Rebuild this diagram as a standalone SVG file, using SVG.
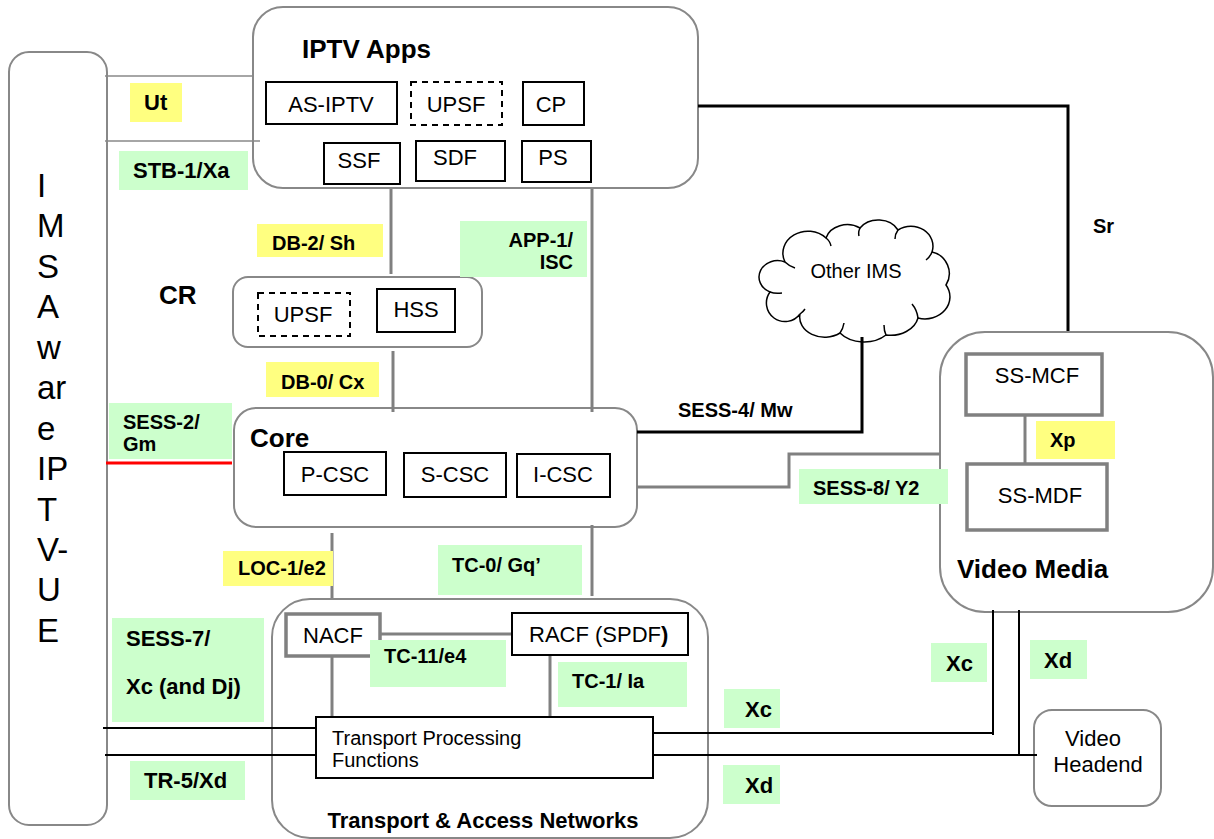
<svg xmlns="http://www.w3.org/2000/svg" width="1214" height="839" viewBox="0 0 1214 839">
<style>
text{font-family:"Liberation Sans",Arial,sans-serif;fill:#000}
.b{font-weight:bold;font-size:20px}
.b22{font-weight:bold;font-size:22px}
.t{font-weight:bold;font-size:26px}
.r{font-size:22px}
.r20{font-size:20px}
.ue{font-size:33px}
.mid{text-anchor:middle}
.cont{fill:#fff;stroke:#888;stroke-width:2}
.box{fill:#fff;stroke:#000;stroke-width:2}
.dash{fill:#fff;stroke:#000;stroke-width:2;stroke-dasharray:6 5}
.gbox{fill:#fff;stroke:#808080;stroke-width:3.5}
.gl{fill:none;stroke:#808080;stroke-width:3}
.thin{fill:none;stroke:#888;stroke-width:1.5}
.bl{fill:none;stroke:#000;stroke-width:3}
.bt{fill:none;stroke:#000;stroke-width:2}
.y{fill:#ffff80}
.g{fill:#ccffcc}
</style>

<g id="containers">
<g id="ue"><rect class="cont" x="9" y="52" width="98" height="773" rx="20"/>
<text class="ue" x="37"><tspan x="37" y="197">I</tspan><tspan x="37" y="237">M</tspan><tspan x="37" y="278">S</tspan><tspan x="37" y="318">A</tspan><tspan x="37" y="359">w</tspan><tspan x="37" y="399">ar</tspan><tspan x="37" y="440">e</tspan><tspan x="37" y="480">IP</tspan><tspan x="37" y="521">T</tspan><tspan x="37" y="561">V-</tspan><tspan x="37" y="601">U</tspan><tspan x="37" y="642">E</tspan></text></g>
<g id="iptv-apps"><rect class="cont" x="253" y="7" width="445" height="181" rx="30"/><text class="t" x="302" y="58">IPTV Apps</text></g>
<g id="cr"><rect class="cont" x="233" y="277" width="249" height="70" rx="15"/><text class="t" x="159" y="304">CR</text></g>
<g id="core"><rect class="cont" x="234" y="408" width="403" height="119" rx="22"/><text class="t" x="250" y="447">Core</text></g>
<g id="transport"><rect class="cont" x="272" y="599" width="436" height="239" rx="38"/><text class="b22 mid" x="483" y="828">Transport &amp; Access Networks</text></g>
<g id="video-media"><rect class="cont" x="940" y="332" width="273" height="280" rx="45"/><text class="t" x="957" y="578">Video Media</text></g>
<g id="video-headend"><rect class="cont" x="1034" y="710" width="127" height="96" rx="18"/><text class="r mid" x="1093" y="746">Video</text><text class="r mid" x="1098" y="772">Headend</text></g>
<g id="other-ims"><path d="M785 262 A25 22 0 0 1 826 238 A22 18 0 0 1 860 228 A22 18 0 0 1 898 230 A22 20 0 0 1 932 252 A22 22 0 0 1 946 285 A25 22 0 0 1 918 318 A28 22 0 0 1 886 335 A30 22 0 0 1 840 333 A25 20 0 0 1 800 314 A18 18 0 0 1 770 292 A18 16 0 0 1 785 262 Z" fill="#fff" stroke="#000" stroke-width="1.5"/>
<path d="M785 262 q4 4 10 6 M826 238 q4 3 5 8 M860 228 q-2 4 -1 8 M898 230 q-3 4 -3 9 M932 252 q-2 5 -6 8 M918 318 q-1 -8 -6 -14 M886 335 q-2 -4 -2 -10 M840 333 q3 -4 4 -10 M800 314 q3 -2 5 -5 M770 292 q5 2 12 1" fill="none" stroke="#000" stroke-width="1.5"/>
<text class="r20 mid" x="856" y="278">Other IMS</text></g>
</g>

<g id="connectors">
<line class="thin" x1="105" y1="76" x2="253" y2="76"/>
<line class="thin" x1="105" y1="141" x2="260" y2="141"/>
<line class="gl" x1="391" y1="189" x2="391" y2="274"/>
<line class="gl" x1="393" y1="351" x2="393" y2="412"/>
<line class="gl" x1="592" y1="189" x2="592" y2="412"/>
<line class="gl" x1="332" y1="533" x2="332" y2="598"/>
<line class="gl" x1="592" y1="525" x2="592" y2="596"/>
<line class="gl" x1="380" y1="634" x2="512" y2="634"/>
<line class="gl" x1="332" y1="656" x2="332" y2="717"/>
<line class="gl" x1="550" y1="655" x2="550" y2="717"/>
<polyline class="bl" points="637,432 862,432 862,337"/>
<polyline class="gl" points="637,487 789,487 789,454 940,454"/>
<polyline class="bl" points="698,106 1068,106 1068,331"/>
<line class="gl" x1="1025" y1="413" x2="1025" y2="464"/>
<line x1="106" y1="463" x2="232" y2="463" stroke="#ff0000" stroke-width="3"/>
<line class="bt" x1="103" y1="728" x2="316" y2="728"/>
<line class="bt" x1="105" y1="755" x2="316" y2="755"/>
<polyline class="bt" points="653,733 993,733"/>
<line class="bt" x1="993" y1="610" x2="993" y2="735"/>
<line class="bt" x1="653" y1="755" x2="1037" y2="755"/>
<line class="bt" x1="1019" y1="610" x2="1019" y2="755"/>
</g>

<g id="nodes">
<g id="as-iptv"><rect class="box" x="266" y="82" width="131" height="42"/><text class="r mid" x="331" y="112">AS-IPTV</text></g>
<g id="upsf-apps"><rect class="dash" x="411" y="82" width="91" height="43"/><text class="r mid" x="456" y="112">UPSF</text></g>
<g id="cp"><rect class="box" x="523" y="82" width="61" height="43"/><text class="r mid" x="551" y="112">CP</text></g>
<g id="ssf"><rect class="box" x="324" y="143" width="76" height="41"/><text class="r mid" x="359" y="168">SSF</text></g>
<g id="sdf"><rect class="box" x="416" y="141" width="89" height="40"/><text class="r mid" x="455" y="165">SDF</text></g>
<g id="ps"><rect class="box" x="522" y="141" width="69" height="41"/><text class="r mid" x="553" y="165">PS</text></g>
<g id="upsf-cr"><rect class="dash" x="258" y="293" width="92" height="43"/><text class="r mid" x="303" y="322">UPSF</text></g>
<g id="hss"><rect class="box" x="377" y="289" width="78" height="43"/><text class="r mid" x="416" y="317">HSS</text></g>
<g id="p-csc"><rect class="box" x="284" y="452" width="102" height="43"/><text class="r mid" x="335" y="482">P-CSC</text></g>
<g id="s-csc"><rect class="box" x="404" y="453" width="102" height="44"/><text class="r mid" x="455" y="482">S-CSC</text></g>
<g id="i-csc"><rect class="box" x="517" y="454" width="93" height="43"/><text class="r mid" x="563" y="482">I-CSC</text></g>
<g id="nacf"><rect class="gbox" x="286" y="614" width="94" height="42"/><text class="r mid" x="333" y="643">NACF</text></g>
<g id="racf"><rect class="box" x="512" y="613" width="176" height="42"/><text class="r" x="529" y="642">RACF (SPDF<tspan font-weight="bold">)</tspan></text></g>
<g id="tpf"><rect class="box" x="316" y="717" width="337" height="61"/><text class="r20" x="332" y="745">Transport Processing</text><text class="r20" x="332" y="767">Functions</text></g>
<g id="ss-mcf"><rect class="gbox" x="966" y="354" width="136" height="61"/><text class="r mid" x="1037" y="383">SS-MCF</text></g>
<g id="ss-mdf"><rect class="gbox" x="967" y="464" width="140" height="66"/><text class="r mid" x="1040" y="503">SS-MDF</text></g>
</g>

<g id="labels">
<rect class="y" x="130" y="83" width="52" height="39"/><text class="b22" x="144" y="110">Ut</text>
<rect class="g" x="119" y="151" width="129" height="39"/><text class="b22" x="133" y="178">STB-1/Xa</text>
<rect class="y" x="257" y="224" width="126" height="33"/><text class="b" x="272" y="250">DB-2/ Sh</text>
<rect class="g" x="460" y="221" width="127" height="56"/><text class="b" x="573" y="247" text-anchor="end">APP-1/</text><text class="b" x="573" y="269" text-anchor="end">ISC</text>
<rect class="y" x="266" y="362" width="113" height="35"/><text class="b" x="281" y="389">DB-0/ Cx</text>
<rect class="g" x="109" y="403" width="123" height="56"/><text class="b" x="123" y="429">SESS-2/</text><text class="b" x="123" y="451">Gm</text>
<rect class="y" x="223" y="551" width="110" height="35"/><text class="b" x="238" y="575">LOC-1/e2</text>
<rect class="g" x="438" y="545" width="144" height="50"/><text class="b" x="452" y="572">TC-0/ Gq’</text>
<rect class="g" x="112" y="618" width="152" height="104"/><text class="b22" x="126" y="646">SESS-7/</text><text class="b22" x="126" y="694">Xc (and Dj)</text>
<rect class="g" x="130" y="761" width="115" height="39"/><text class="b22" x="144" y="788">TR-5/Xd</text>
<rect class="g" x="370" y="640" width="136" height="47"/><text class="b" x="384" y="663">TC-11/e4</text>
<rect class="g" x="558" y="662" width="129" height="45"/><text class="b" x="572" y="688">TC-1/ Ia</text>
<rect class="g" x="724" y="689" width="56" height="39"/><text class="b22" x="745" y="717">Xc</text>
<rect class="g" x="723" y="765" width="57" height="39"/><text class="b22" x="745" y="793">Xd</text>
<rect class="g" x="931" y="643" width="56" height="39"/><text class="b22" x="946" y="671">Xc</text>
<rect class="g" x="1030" y="640" width="57" height="39"/><text class="b22" x="1044" y="668">Xd</text>
<rect class="y" x="1036" y="421" width="79" height="38"/><text class="b" x="1050" y="447">Xp</text>
<rect class="g" x="799" y="469" width="149" height="35"/><text class="b" x="813" y="495">SESS-8/ Y2</text>
<text class="b" x="678" y="417">SESS-4/ Mw</text>
<text class="b" x="1093" y="233">Sr</text>
</g>
</svg>
